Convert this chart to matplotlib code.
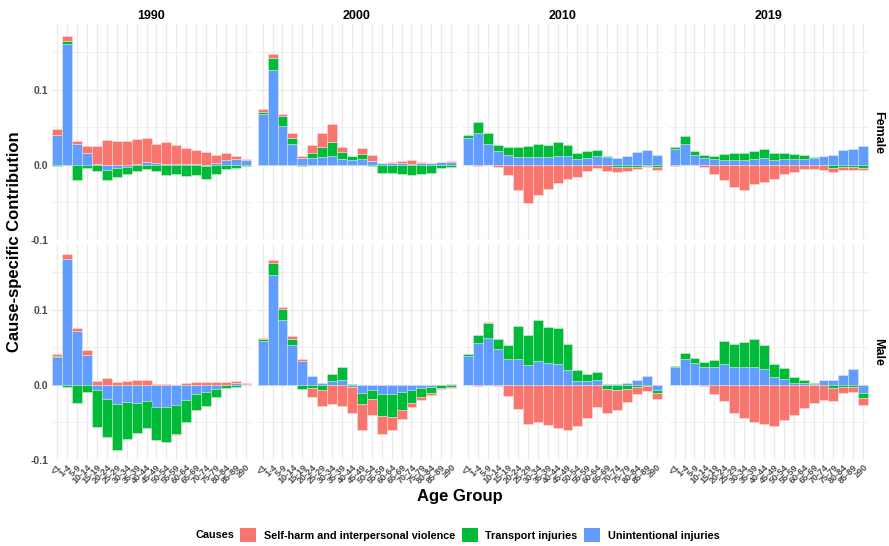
import numpy as np
import matplotlib
matplotlib.use("Agg")
import matplotlib.pyplot as plt
from matplotlib.patches import Patch

plt.rcParams['font.family'] = ['Liberation Sans', 'DejaVu Sans']
plt.rcParams['axes.unicode_minus'] = False

age_groups = ['<1', '1-4', '5-9', '10-14', '15-19', '20-24', '25-29', '30-34',
              '35-39', '40-44', '45-49', '50-54', '55-59', '60-64', '65-69',
              '70-74', '75-79', '80-84', '85-89', '≥90']
years = ['1990', '2000', '2010', '2019']
sexes = ['Female', 'Male']
causes = ['Self-harm and interpersonal violence', 'Transport injuries',
          'Unintentional injuries']
cause_colors = ['#F8766D', '#00BA38', '#619CFF']

# ---- Female ----
self_f1990 = [0.008, 0.007, 0.003, 0.0094, 0.0235, 0.0326, 0.0317, 0.031, 0.0335, 0.032,
              0.026, 0.0285, 0.0255, 0.0217, 0.0186, 0.017, 0.0116, 0.0096, 0.004, 0.0016]
trans_f1990 = [-0.002, 0.004, -0.021, -0.005, -0.008, -0.0135, -0.0115, -0.0095, -0.008, -0.0054,
               -0.009, -0.014, -0.0125, -0.0156, -0.014, -0.0174, -0.013, -0.006, -0.004, -0.0013]
unint_f1990 = [0.040, 0.161, 0.028, 0.0156, 0.001, -0.007, -0.0045, -0.003, 0.0005, 0.0036,
               0.0018, 0.001, 0.0005, 0.0003, 0.001, -0.0013, 0.0018, 0.006, 0.008, 0.006]

self_f2000 = [0.0045, 0.0045, 0.0023, 0.0058, 0.002, 0.011, 0.0196, 0.0232, 0.0063, 0.0005,
              0.008, 0.008, 0.0005, 0.0016, 0.003, 0.0053, 0.0016, 0.0007, 0.0004, 0.001]
trans_f2000 = [0.0022, 0.0165, 0.0134, 0.008, -0.002, 0.006, 0.0125, 0.0188, 0.0094, 0.0058,
               0.0067, -0.0013, -0.0107, -0.0116, -0.012, -0.0134, -0.0125, -0.0107, -0.005, -0.0027]
unint_f2000 = [0.068, 0.126, 0.0513, 0.028, 0.009, 0.0094, 0.0103, 0.0116, 0.008, 0.0058,
               0.0076, 0.005, 0.002, 0.002, 0.002, 0.001, 0.002, 0.002, 0.0036, 0.004]

self_f2010 = [-0.0005, -0.0013, -0.0005, -0.003, -0.0143, -0.034, -0.051, -0.0406, -0.033, -0.025,
              -0.0196, -0.016, -0.008, -0.0045, -0.008, -0.0073, -0.0058, -0.003, -0.0018, -0.004]
trans_f2010 = [0.003, 0.0147, 0.014, 0.0077, 0.0116, 0.013, 0.0148, 0.017, 0.0156, 0.018,
               0.0153, 0.008, 0.009, 0.008, 0.0013, -0.003, -0.0027, -0.0027, -0.0018, -0.0036]
unint_f2010 = [0.036, 0.0424, 0.028, 0.0183, 0.0125, 0.0107, 0.0098, 0.0103, 0.0103, 0.012,
               0.011, 0.008, 0.0094, 0.0116, 0.0103, 0.009, 0.011, 0.0165, 0.0188, 0.0134]

self_f2019 = [-0.0013, -0.0003, -0.0005, -0.0027, -0.012, -0.021, -0.0295, -0.0335, -0.026, -0.023,
              -0.0196, -0.013, -0.0094, -0.0054, -0.0054, -0.0067, -0.0054, -0.003, -0.0036, -0.0036]
trans_f2019 = [0.0016, 0.0095, 0.005, 0.0036, 0.0045, 0.008, 0.0085, 0.0094, 0.011, 0.012,
               0.0085, 0.0085, 0.0072, 0.0054, 0.0013, 0.0002, -0.005, -0.0036, -0.0036, -0.004]
unint_f2019 = [0.0214, 0.028, 0.0125, 0.0094, 0.0076, 0.0067, 0.0067, 0.0067, 0.0076, 0.009,
               0.0067, 0.007, 0.007, 0.0076, 0.009, 0.0116, 0.0134, 0.0196, 0.0214, 0.025]

# ---- Male ----
self_m1990 = [0.003, 0.006, 0.004, 0.0076, 0.0045, 0.0094, 0.003, 0.0045, 0.0058, 0.0067,
              0.001, 0.0003, -0.001, 0.0018, 0.0036, 0.003, 0.003, 0.0036, 0.0018, 0.0005]
trans_m1990 = [0.001, -0.0027, -0.025, -0.0094, -0.049, -0.0504, -0.0616, -0.050, -0.040, -0.0353,
               -0.0446, -0.046, -0.038, -0.0286, -0.0214, -0.018, -0.0111, -0.0036, -0.0027, -0.001]
unint_m1990 = [0.037, 0.168, 0.0714, 0.039, -0.007, -0.019, -0.026, -0.023, -0.024, -0.0223,
               -0.0295, -0.030, -0.0277, -0.021, -0.013, -0.0103, -0.006, -0.001, 0.0027, 0.0013]

self_m2000 = [0.0018, 0.003, 0.0018, 0.0036, 0.0023, -0.011, -0.0223, -0.0254, -0.028, -0.0345,
              -0.0344, -0.022, -0.024, -0.0179, -0.0116, -0.0063, -0.004, -0.0022, -0.0008, -0.001]
trans_m2000 = [0.0027, 0.0165, 0.0153, 0.0083, -0.0058, -0.005, -0.0067, 0.0094, 0.018, 0.0013,
               -0.0156, -0.012, -0.0286, -0.0304, -0.025, -0.0174, -0.0125, -0.0085, -0.0035, -0.003]
unint_m2000 = [0.058, 0.146, 0.086, 0.0527, 0.032, 0.012, 0.0018, 0.005, 0.0058, -0.003,
               -0.0107, -0.0067, -0.013, -0.0125, -0.0094, -0.0067, -0.004, -0.003, -0.001, 0.001]

self_m2010 = [-0.0005, -0.0013, 0.001, -0.0018, -0.0147, -0.032, -0.052, -0.0504, -0.0545, -0.058,
              -0.061, -0.0558, -0.0446, -0.030, -0.033, -0.026, -0.0177, -0.0094, -0.0063, -0.0076]
trans_m2010 = [0.003, 0.011, 0.0206, 0.013, 0.019, 0.0442, 0.0393, 0.055, 0.0478, 0.0478,
               0.0353, 0.0143, 0.0094, 0.0107, -0.0054, -0.0076, -0.006, -0.0036, -0.0018, -0.004]
unint_m2010 = [0.038, 0.0554, 0.062, 0.0478, 0.034, 0.0344, 0.0263, 0.0317, 0.029, 0.0272,
               0.0192, 0.0054, 0.0045, 0.0058, 0.001, 0.001, 0.0022, 0.0067, 0.011, -0.007]

self_m2019 = [-0.001, -0.0003, -0.0003, -0.0013, -0.0125, -0.0214, -0.038, -0.045, -0.050, -0.0522,
              -0.0554, -0.0478, -0.0406, -0.0317, -0.024, -0.020, -0.0164, -0.0086, -0.0067, -0.0098]
trans_m2019 = [0.0014, 0.0076, 0.007, 0.0063, 0.0094, 0.030, 0.0308, 0.034, 0.038, 0.0317,
               0.017, 0.0147, 0.0076, 0.0045, 0.0003, 0.0002, -0.005, -0.003, -0.0027, -0.0067]
unint_m2019 = [0.023, 0.0344, 0.029, 0.0237, 0.0237, 0.0277, 0.0237, 0.0228, 0.0228, 0.0205,
               0.0098, 0.0076, 0.0027, 0.0018, 0.0013, 0.0058, 0.0063, 0.0125, 0.0205, -0.0107]

panels = {
    ('Female', '1990'): (self_f1990, trans_f1990, unint_f1990),
    ('Female', '2000'): (self_f2000, trans_f2000, unint_f2000),
    ('Female', '2010'): (self_f2010, trans_f2010, unint_f2010),
    ('Female', '2019'): (self_f2019, trans_f2019, unint_f2019),
    ('Male', '1990'): (self_m1990, trans_m1990, unint_m1990),
    ('Male', '2000'): (self_m2000, trans_m2000, unint_m2000),
    ('Male', '2010'): (self_m2010, trans_m2010, unint_m2010),
    ('Male', '2019'): (self_m2019, trans_m2019, unint_m2019),
}

# shared y range: stacked positive / negative extents, padded 5%
lo, hi = 0.0, 0.0
for vals in panels.values():
    arr = np.array(vals)
    hi = max(hi, np.where(arr > 0, arr, 0).sum(axis=0).max())
    lo = min(lo, np.where(arr < 0, arr, 0).sum(axis=0).min())
pad = (hi - lo) * 0.05
ylim = (lo - pad, hi + pad)

W, H = 889, 546
fig = plt.figure(figsize=(W / 100, H / 100), dpi=100)

lefts = [51.3, 256.7, 462.3, 668.7]
tops = [24.3, 244.3]
pw, ph = 200.4, 215.8
grid_col = '#EBEBEB'
tick_col = '#4D4D4D'
x = np.arange(len(age_groups))

for r, sex in enumerate(sexes):
    for c, year in enumerate(years):
        ax = fig.add_axes([lefts[c] / W, 1 - (tops[r] + ph) / H, pw / W, ph / H])
        vals = panels[(sex, year)]
        pos_base = np.zeros(len(x))
        neg_base = np.zeros(len(x))
        # unintentional sits next to zero, then transport, then self-harm
        for k in (2, 1, 0):
            v = np.array(vals[k])
            bottom = np.where(v >= 0, pos_base, neg_base)
            ax.bar(x, v, width=1.0, bottom=bottom, color=cause_colors[k],
                   edgecolor=(1, 1, 1, 0.45), linewidth=0.5, zorder=2)
            pos_base += np.where(v >= 0, v, 0)
            neg_base += np.where(v < 0, v, 0)

        ax.set_xlim(-0.6, len(x) - 0.4)
        ax.set_ylim(*ylim)
        ax.set_yticks([-0.1, 0.0, 0.1])
        ax.set_yticks([-0.05, 0.05, 0.15], minor=True)
        ax.set_xticks(x)
        ax.grid(which='major', color=grid_col, linewidth=1.0, zorder=0)
        ax.grid(which='minor', axis='y', color=grid_col, linewidth=0.5, zorder=0)
        ax.set_axisbelow(True)
        for s in ax.spines.values():
            s.set_visible(False)
        ax.tick_params(which='both', length=0, pad=2)

        if c == 0:
            ax.set_yticklabels(['-0.1', '0.0', '0.1'], fontsize=7.5,
                               fontweight='bold', color=tick_col)
        else:
            ax.set_yticklabels([])
        if r == 1:
            ax.set_xticklabels(age_groups, rotation=45, ha='right',
                               rotation_mode='anchor', fontsize=6.5,
                               fontweight='bold', color=tick_col)
        else:
            ax.set_xticklabels([])

        if r == 0:
            ax.set_title(year, fontsize=9, fontweight='bold', pad=4)
        if c == len(years) - 1:
            ax.text(1.045, 0.5, sex, transform=ax.transAxes, rotation=-90,
                    ha='center', va='center', fontsize=9, fontweight='bold')

fig.text(15 / W, 1 - 242 / H, 'Cause-specific Contribution', rotation=90,
         ha='center', va='center', fontsize=12, fontweight='bold')
fig.text(460 / W, 1 - 497 / H, 'Age Group', ha='center', va='center',
         fontsize=12, fontweight='bold')

# legend along the bottom
fig.text(195 / W, 1 - 535 / H, 'Causes', ha='left', va='center',
         fontsize=7.8, fontweight='bold')
handles = [Patch(facecolor=col, edgecolor='none') for col in cause_colors]
leg = fig.legend(handles, causes, ncol=3, loc='center left',
                 bbox_to_anchor=(240 / W, 1 - 535 / H), frameon=False,
                 handlelength=1.5, handleheight=1.5, handletextpad=0.7,
                 columnspacing=0.6, borderpad=0, borderaxespad=0,
                 prop={'size': 7.8, 'weight': 'bold'})

fig.savefig('out.png', dpi=100)
